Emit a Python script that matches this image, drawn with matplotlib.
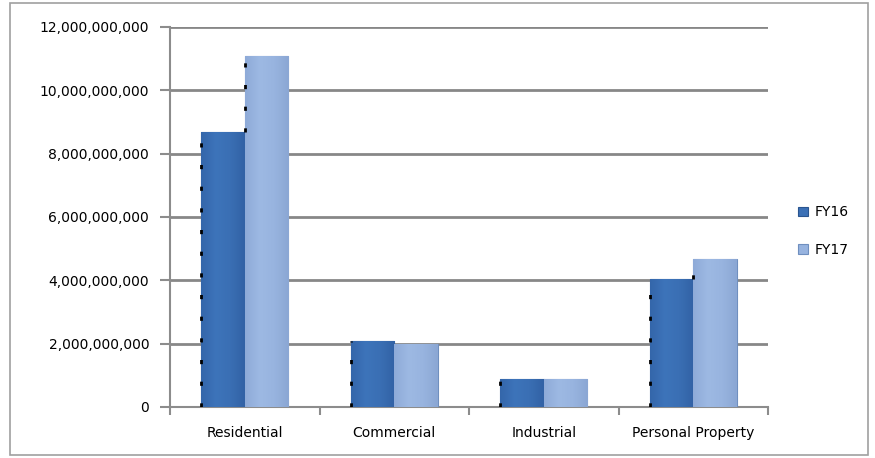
import numpy as np
import matplotlib
matplotlib.use('Agg')
import matplotlib.pyplot as plt
from matplotlib.patches import Rectangle
from matplotlib.ticker import FuncFormatter
from matplotlib.colors import LinearSegmentedColormap

# values
categories = ['Residential', 'Commercial', 'Industrial', 'Personal Property']
fy16 = [8.70e9, 2.08e9, 0.88e9, 4.04e9]
fy17 = [11.10e9, 1.99e9, 0.88e9, 4.67e9]
series_names = ['FY16', 'FY17']
yticks = [0, 2e9, 4e9, 6e9, 8e9, 10e9, 12e9]

col16 = '#3b70b6'
col17 = '#97b3df'
grad16 = LinearSegmentedColormap.from_list('g16', ['#3466aa', '#3d74ba', '#3a6fb4', '#3262a5'])
grad17 = LinearSegmentedColormap.from_list('g17', ['#8eaad8', '#9db9e3', '#98b4df', '#8ba7d4'])

fig = plt.figure(figsize=(8.75, 4.58), dpi=100)
fig.patches.append(Rectangle((10/875, 3/458), 858/875, 452/458, transform=fig.transFigure,
                             fill=False, edgecolor='#a0a0a0', linewidth=1.2))

ax = fig.add_axes([170/875, 1 - 407/458, 598/875, 380/458])
x = np.arange(len(categories))
w = 0.29
b1 = ax.bar(x - w/2, fy16, w, color=col16, edgecolor='#2a5590', linewidth=0.8, zorder=3, label=series_names[0])
b2 = ax.bar(x + w/2, fy17, w, color=col17, edgecolor='#6f8fbf', linewidth=0.8, zorder=3, label=series_names[1])

# soft horizontal shading inside each bar
ramp = np.linspace(0, 1, 64).reshape(1, -1)
for bars, cmap in [(b1, grad16), (b2, grad17)]:
    for r in bars:
        x0, y0 = r.get_x(), r.get_y()
        im = ax.imshow(ramp, cmap=cmap, aspect='auto', zorder=3.5,
                       extent=[x0, x0 + r.get_width(), y0, y0 + r.get_height()])
        im.set_clip_path(r)

# dotted shadow marks on the left edge of each group
for xi, v16, v17 in zip(x, fy16, fy17):
    ax.vlines(xi - w, 0, v16, colors='black', linestyles=(0, (1.5, 6.3)), linewidth=2, zorder=4)
    if v17 > v16:
        ax.vlines(xi, v16, v17, colors='black', linestyles=(0, (1.5, 6.3)), linewidth=2, zorder=4)

ax.set_xlim(-0.5, len(categories) - 0.5)
ax.set_ylim(0, 12e9)
ax.set_yticks(yticks)
ax.yaxis.set_major_formatter(FuncFormatter(lambda v, p: f'{int(v):,}'))
ax.grid(axis='y', color='#878787', linewidth=2, zorder=1)
ax.set_axisbelow(True)

ax.set_xticks(x)
ax.set_xticklabels(categories, fontsize=10)
ax.set_xticks(np.arange(-0.5, len(categories)), minor=True)
ax.tick_params(axis='x', which='major', length=0, pad=14)
ax.tick_params(axis='x', which='minor', length=6, width=1.5, color='#8c8c8c')
ax.tick_params(axis='y', length=7, width=1.5, color='#8c8c8c', labelsize=10, pad=8)

for s in ['top', 'right']:
    ax.spines[s].set_visible(False)
for s in ['left', 'bottom']:
    ax.spines[s].set_color('#8c8c8c')
    ax.spines[s].set_linewidth(1.5)

ax.legend(loc='center left', bbox_to_anchor=(1.03, 0.463), frameon=False, fontsize=10,
          handlelength=0.7, handleheight=0.7, labelspacing=1.7, handletextpad=0.5)

fig.savefig('out.png', dpi=100)
